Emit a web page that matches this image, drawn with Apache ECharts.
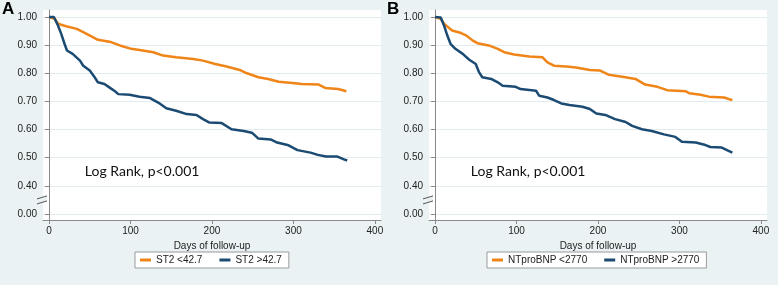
<!DOCTYPE html>
<html>
<head>
<meta charset="utf-8">
<script src="https://cdn.jsdelivr.net/npm/echarts@6/dist/echarts.min.js"></script>
<style>
  html, body { margin: 0; padding: 0; background: #eaf2f3; }
  #main { width: 778px; height: 285px; }
</style>
</head>
<body>
<div id="main"></div>
<script>
// Panel A: ST2
const st2LowTime = [0, 7, 11, 21, 34, 42, 52, 60, 76, 87, 101, 115, 128, 140, 156, 177, 189, 204, 218, 234, 243, 257, 269, 282, 302, 310, 331, 339, 355, 365];
const st2LowSurv = [1.0, 0.994, 0.976, 0.967, 0.958, 0.946, 0.931, 0.919, 0.911, 0.899, 0.887, 0.881, 0.875, 0.863, 0.857, 0.851, 0.845, 0.833, 0.824, 0.812, 0.800, 0.786, 0.780, 0.770, 0.765, 0.762, 0.760, 0.748, 0.744, 0.736];
const st2HighTime = [0, 6, 11, 15, 19, 22, 29, 38, 42, 50, 56, 60, 68, 74, 81, 85, 99, 111, 124, 134, 144, 156, 169, 181, 189, 197, 212, 224, 239, 249, 257, 272, 280, 294, 305, 321, 330, 340, 354, 362, 366];
const st2HighSurv = [1.0, 1.0, 0.970, 0.940, 0.905, 0.881, 0.869, 0.845, 0.827, 0.810, 0.786, 0.768, 0.762, 0.750, 0.736, 0.726, 0.724, 0.717, 0.712, 0.696, 0.676, 0.667, 0.655, 0.652, 0.637, 0.625, 0.623, 0.601, 0.595, 0.589, 0.568, 0.565, 0.554, 0.544, 0.527, 0.518, 0.510, 0.504, 0.504, 0.494, 0.490];

// Panel B: NTproBNP
const bnpLowTime = [0, 7, 11, 21, 32, 38, 46, 52, 66, 77, 85, 97, 116, 132, 138, 146, 161, 173, 190, 202, 213, 230, 246, 258, 273, 285, 308, 312, 326, 336, 355, 361, 365];
const bnpLowSurv = [1.0, 0.994, 0.976, 0.952, 0.943, 0.935, 0.917, 0.907, 0.899, 0.887, 0.875, 0.867, 0.860, 0.857, 0.839, 0.827, 0.824, 0.821, 0.812, 0.810, 0.795, 0.788, 0.780, 0.760, 0.752, 0.740, 0.736, 0.729, 0.724, 0.717, 0.714, 0.708, 0.705];
const bnpHighTime = [0, 7, 11, 15, 19, 25, 34, 42, 50, 54, 58, 69, 77, 83, 99, 105, 124, 128, 138, 146, 155, 165, 181, 190, 198, 209, 221, 234, 242, 254, 266, 281, 295, 303, 320, 332, 338, 352, 359, 365];
const bnpHighSurv = [1.0, 0.998, 0.970, 0.935, 0.905, 0.887, 0.869, 0.848, 0.833, 0.804, 0.786, 0.780, 0.768, 0.756, 0.752, 0.744, 0.738, 0.720, 0.714, 0.705, 0.693, 0.687, 0.681, 0.673, 0.657, 0.652, 0.637, 0.627, 0.613, 0.601, 0.595, 0.583, 0.574, 0.557, 0.554, 0.545, 0.538, 0.536, 0.526, 0.518];

const xTicks = [0, 100, 200, 300, 400];
// 0.30 position carries the "0.00" label (broken axis)
const yTicks = [0.3, 0.4, 0.5, 0.6, 0.7, 0.8, 0.9, 1.0];
const legendA = ['ST2 <42.7', 'ST2 >42.7'];
const legendB = ['NTproBNP <2770', 'NTproBNP >2770'];
const noteText = 'Log Rank, p<0.001';

const orange = '#ef8519';
const navy = '#1b4a72';
const bg = '#eaf2f3';

const pairs = (t, s) => t.map((v, i) => [v, s[i]]);

const myChart = echarts.init(document.getElementById('main'));

const xAxisOf = (idx) => ({
  gridIndex: idx,
  type: 'value',
  min: -7.4,
  max: 407.5,
  name: 'Days of follow-up',
  nameLocation: 'middle',
  nameGap: 19,
  nameTextStyle: { fontFamily: 'Liberation Sans', fontSize: 10, color: '#222' },
  axisLine: { show: true, lineStyle: { color: '#8a8a8a', width: 1 } },
  axisTick: { show: true, length: 4, customValues: xTicks, lineStyle: { color: '#8a8a8a' } },
  axisLabel: { customValues: xTicks, margin: 6, fontFamily: 'Liberation Sans', fontSize: 10, color: '#222' },
  splitLine: { show: false },
});

const yAxisOf = (idx) => ({
  gridIndex: idx,
  type: 'value',
  min: 0.2786,
  max: 1.025,
  axisLine: { show: true, lineStyle: { color: '#8a8a8a', width: 1 } },
  axisTick: { show: true, length: 4, customValues: yTicks, lineStyle: { color: '#8a8a8a' } },
  axisLabel: {
    customValues: yTicks,
    margin: 6,
    fontFamily: 'Liberation Sans',
    fontSize: 10,
    color: '#222',
    formatter: (v) => (v < 0.35 ? '0.00' : v.toFixed(2)),
  },
  splitLine: { show: true, lineStyle: { color: '#e2ebee', width: 1 } },
});

const lineSeries = (name, idx, data, color) => ({
  name: name,
  type: 'line',
  xAxisIndex: idx,
  yAxisIndex: idx,
  symbol: 'none',
  lineStyle: { color: color, width: 2.5 },
  itemStyle: { color: color },
  data: data,
});

const legendOf = (data, left) => ({
  data: data,
  left: left,
  top: 252,
  orient: 'horizontal',
  icon: 'rect',
  itemWidth: 11,
  itemHeight: 3,
  itemGap: 17,
  padding: [3, 7, 3, 5],
  backgroundColor: '#fff',
  borderColor: '#9a9a9a',
  borderWidth: 1,
  borderRadius: 0,
  selectedMode: false,
  textStyle: { fontFamily: 'Liberation Sans', fontSize: 10, color: '#222' },
});

const option = {
  backgroundColor: bg,
  animation: false,
  grid: [
    { left: 43, right: 397, top: 10, bottom: 65, show: true, backgroundColor: '#fff', borderWidth: 0 },
    { left: 429, right: 11, top: 10, bottom: 65, show: true, backgroundColor: '#fff', borderWidth: 0 },
  ],
  xAxis: [xAxisOf(0), xAxisOf(1)],
  yAxis: [yAxisOf(0), yAxisOf(1)],
  legend: [legendOf(legendA, 135), legendOf(legendB, 487)],
  series: [
    lineSeries(legendA[0], 0, pairs(st2LowTime, st2LowSurv), orange),
    lineSeries(legendA[1], 0, pairs(st2HighTime, st2HighSurv), navy),
    lineSeries(legendB[0], 1, pairs(bnpLowTime, bnpLowSurv), orange),
    lineSeries(legendB[1], 1, pairs(bnpHighTime, bnpHighSurv), navy),
  ],
};

myChart.setOption(option);

// 面板字母、Log Rank 文字和断轴符号
const graphics = [];
[0, 1].forEach((idx) => {
  const origin = myChart.convertToPixel({ xAxisIndex: idx, yAxisIndex: idx }, [-7.4, 0.35]);
  const textPos = myChart.convertToPixel({ xAxisIndex: idx, yAxisIndex: idx }, [44, 0.45]);
  const ax = origin[0];
  const ay = origin[1];
  // hide the axis line between the two slashes
  graphics.push({
    type: 'polygon',
    shape: { points: [[ax - 4, ay + 4], [ax + 4, ay + 1], [ax + 4, ay - 4], [ax - 4, ay - 1]] },
    style: { fill: bg },
    z: 100,
  });
  graphics.push({
    type: 'line',
    shape: { x1: ax - 6, y1: ay + 4, x2: ax + 4, y2: ay + 1 },
    style: { stroke: '#555', lineWidth: 1 },
    z: 101,
  });
  graphics.push({
    type: 'line',
    shape: { x1: ax - 6, y1: ay - 1, x2: ax + 4, y2: ay - 4 },
    style: { stroke: '#555', lineWidth: 1 },
    z: 101,
  });
  graphics.push({
    type: 'text',
    x: textPos[0],
    y: textPos[1],
    style: {
      text: noteText,
      fontFamily: 'Lato',
      fontSize: 14,
      fill: '#111',
      verticalAlign: 'middle',
    },
    z: 50,
  });
});
graphics.push({
  type: 'text', left: 2, top: 1,
  style: { text: 'A', fontFamily: 'Liberation Sans', fontWeight: 'bold', fontSize: 17, fill: '#000' },
});
graphics.push({
  type: 'text', left: 387, top: 1,
  style: { text: 'B', fontFamily: 'Liberation Sans', fontWeight: 'bold', fontSize: 17, fill: '#000' },
});
myChart.setOption({ graphic: graphics });
</script>
</body>
</html>
